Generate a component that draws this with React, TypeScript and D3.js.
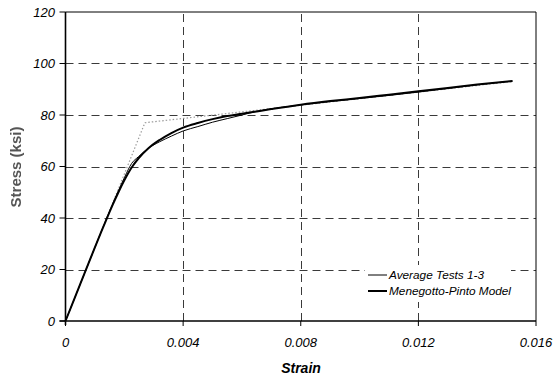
import React from "react";
import * as d3 from "d3";

const xTicks = [0, 0.004, 0.008, 0.012, 0.016];
const xTickLabels = ["0", "0.004", "0.008", "0.012", "0.016"];
const yTicks = [0, 20, 40, 60, 80, 100, 120];

const testStrain = [0, 0.0005, 0.001, 0.0013, 0.0016, 0.0018, 0.002, 0.00225, 0.00248, 0.00282, 0.0032, 0.0036, 0.004, 0.0045, 0.005, 0.0055, 0.006, 0.0065, 0.007, 0.008, 0.009, 0.01, 0.011, 0.012, 0.013, 0.014, 0.0152];
const testStress = [0, 14.3, 28.6, 37.1, 45.4, 50.6, 55.6, 61.2, 63.8, 67.1, 69.6, 71.8, 73.8, 75.5, 77.2, 78.6, 80.0, 81.4, 82.4, 83.9, 85.2, 86.4, 87.6, 88.9, 90.3, 91.7, 93.2];

const modelStrain = [0, 0.0005, 0.001, 0.0012, 0.0014, 0.0016, 0.0018, 0.002, 0.00225, 0.0025, 0.00282, 0.0032, 0.0036, 0.004, 0.0045, 0.005, 0.0055, 0.006, 0.0065, 0.007, 0.008, 0.009, 0.01, 0.011, 0.012, 0.013, 0.014, 0.0152];
const modelStress = [0, 14.3, 28.6, 34.2, 39.7, 45.0, 50.0, 54.6, 59.6, 63.4, 67.1, 70.3, 73.0, 75.1, 76.9, 78.4, 79.6, 80.5, 81.4, 82.3, 84.0, 85.4, 86.6, 87.9, 89.2, 90.5, 91.8, 93.2];

const bilinStrain = [0, 0.0027, 0.0152];
const bilinStress = [0, 77, 93];

const legendLabels = ["Average Tests 1-3", "Menegotto-Pinto Model"];

export default function App() {
  const left = 65.5, right = 536, top = 12, bottom = 321;
  const x = d3.scaleLinear().domain([0, 0.016]).range([left, right]);
  const y = d3.scaleLinear().domain([0, 120]).range([bottom, top]);
  const line = d3.line<[number, number]>().x(d => x(d[0])).y(d => y(d[1]));
  const smooth = d3.line<[number, number]>().x(d => x(d[0])).y(d => y(d[1])).curve(d3.curveMonotoneX);
  const zip = (a: number[], b: number[]) => a.map((v, i) => [v, b[i]] as [number, number]);
  const font = "Arial, 'Liberation Sans', sans-serif";
  const gridColor = "#3a3a3a";

  return (
    <svg width={553} height={379} style={{ position: "absolute", left: 0, top: 0, background: "#fff" }}>
      <defs>
        <filter id="blur" x="-20%" y="-20%" width="140%" height="140%">
          <feGaussianBlur stdDeviation="0.7" />
        </filter>
      </defs>
      <rect x={0} y={0} width={553} height={379} fill="#fff" />
      {yTicks.filter(t => t > 0 && t < 120).map(t => (
        <line key={"gy" + t} x1={left} x2={right} y1={Math.round(y(t)) + 0.5} y2={Math.round(y(t)) + 0.5}
          stroke={gridColor} strokeWidth={1} strokeDasharray="8,5" />
      ))}
      {xTicks.filter(t => t > 0 && t < 0.016).map(t => (
        <line key={"gx" + t} x1={Math.round(x(t)) + 0.5} x2={Math.round(x(t)) + 0.5} y1={bottom} y2={top}
          stroke={gridColor} strokeWidth={1} strokeDasharray="8,5" />
      ))}
      {/* frame */}
      <line x1={left} x2={right} y1={top} y2={top} stroke="#000" strokeWidth={1} />
      <line x1={right} x2={right} y1={top} y2={bottom} stroke="#000" strokeWidth={1} />
      <line x1={left} x2={left} y1={top} y2={bottom + 4} stroke="#000" strokeWidth={1.6} />
      <line x1={left - 6} x2={right} y1={bottom} y2={bottom} stroke="#000" strokeWidth={1.4} />
      {yTicks.map(t => (
        <g key={"ty" + t}>
          <line x1={left - 6} x2={left} y1={y(t)} y2={y(t)} stroke="#000" strokeWidth={1} />
          <text x={55} y={y(t) + 4.5} textAnchor="end" fontFamily={font} fontStyle="italic" fontSize={13}>{t}</text>
        </g>
      ))}
      {xTicks.map((t, i) => (
        <g key={"tx" + t}>
          <line x1={x(t)} x2={x(t)} y1={bottom} y2={bottom + 5} stroke="#000" strokeWidth={1} />
          <text x={x(t)} y={347} textAnchor="middle" fontFamily={font} fontStyle="italic" fontSize={13}>{xTickLabels[i]}</text>
        </g>
      ))}
      <text x={301} y={373} textAnchor="middle" fontFamily={font} fontStyle="italic" fontWeight="bold" fontSize={14}>Strain</text>
      <text transform="translate(21,167) rotate(-90)" textAnchor="middle" fontFamily={font} fontWeight="bold" fontSize={15}
        fill="#555" filter="url(#blur)">Stress (ksi)</text>

      {/* curves */}
      <path d={line(zip(bilinStrain, bilinStress)) || ""} fill="none" stroke="#999" strokeWidth={1.2} strokeDasharray="1.5,2" />
      <path d={smooth(zip(testStrain, testStress)) || ""} fill="none" stroke="#000" strokeWidth={1} />
      <path d={smooth(zip(modelStrain, modelStress)) || ""} fill="none" stroke="#000" strokeWidth={2} />

      {/* legend */}
      <rect x={365} y={265} width={146} height={37} fill="#fff" />
      <line x1={368} x2={387} y1={275} y2={275} stroke="#000" strokeWidth={1} />
      <text x={389} y={279} fontFamily={font} fontStyle="italic" fontSize={11.8}>{legendLabels[0]}</text>
      <line x1={368} x2={387} y1={291} y2={291} stroke="#000" strokeWidth={2} />
      <text x={389} y={295} fontFamily={font} fontStyle="italic" fontSize={11.8}>{legendLabels[1]}</text>
    </svg>
  );
}
